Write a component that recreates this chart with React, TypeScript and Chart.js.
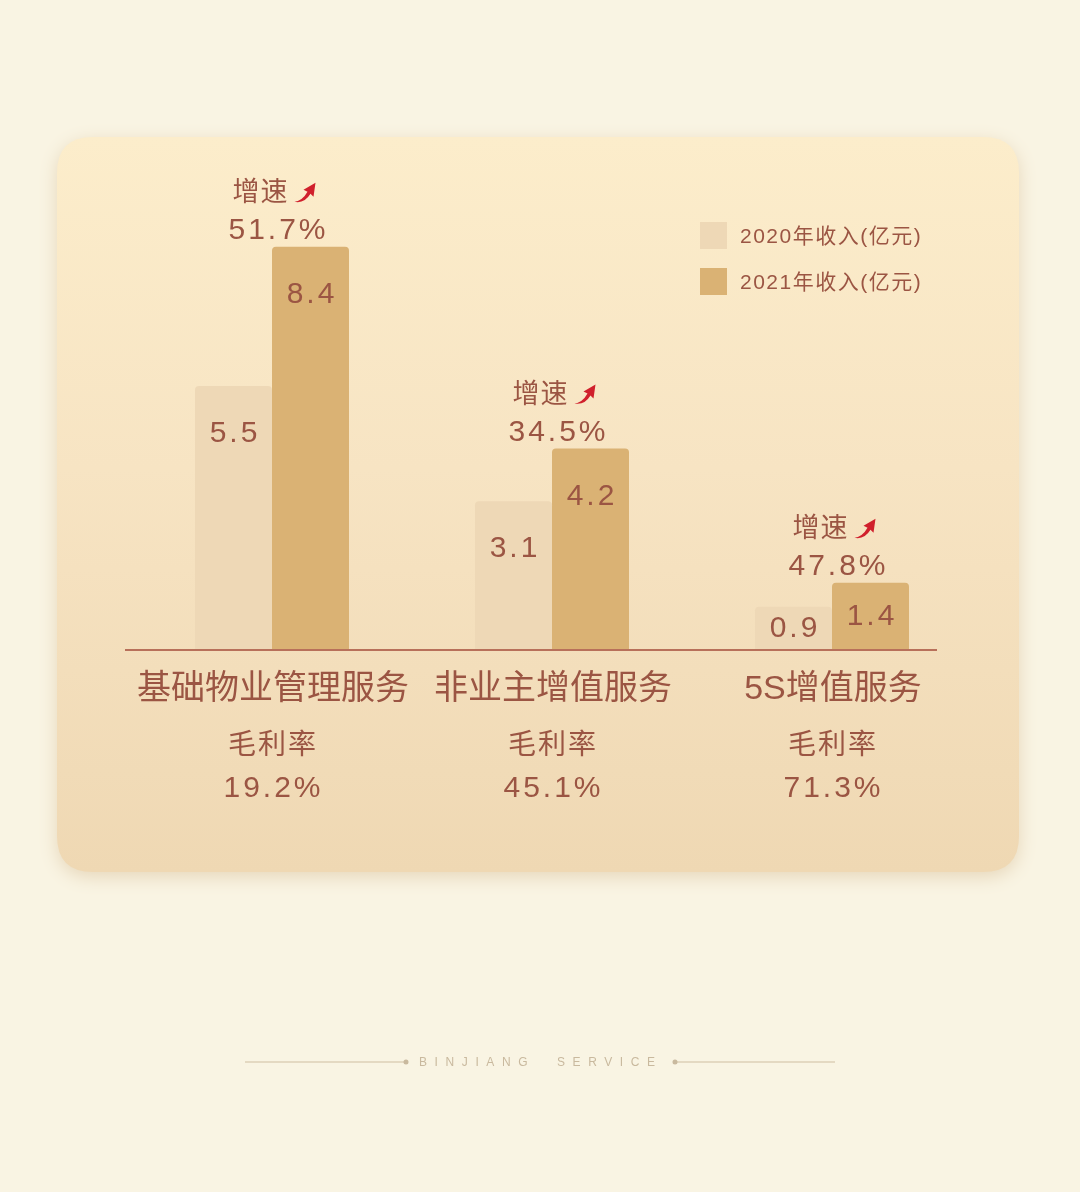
import { useRef, useEffect } from "react";
import { Chart, registerables } from "chart.js";
import type { Plugin } from "chart.js";

Chart.register(...registerables);

const categories = ["基础物业管理服务", "非业主增值服务", "5S增值服务"];
const seriesLabels = ["2020年收入(亿元)", "2021年收入(亿元)"];
const revenue2020 = [5.5, 3.1, 0.9];
const revenue2021 = [8.4, 4.2, 1.4];
const growthRates = [51.7, 34.5, 47.8];
const grossMargins = [19.2, 45.1, 71.3];

const TEXT = "#9b5543";
const RED = "#d0202c";
const COLOR_2020 = "#eed8b6";
const COLOR_2021 = "#dab274";
const FONT = '"Liberation Sans", "Noto Sans CJK SC", sans-serif';

function roundRect(ctx: CanvasRenderingContext2D, x: number, y: number, w: number, h: number, r: number) {
    ctx.beginPath();
    ctx.moveTo(x + r, y);
    ctx.lineTo(x + w - r, y);
    ctx.quadraticCurveTo(x + w, y, x + w, y + r);
    ctx.lineTo(x + w, y + h - r);
    ctx.quadraticCurveTo(x + w, y + h, x + w - r, y + h);
    ctx.lineTo(x + r, y + h);
    ctx.quadraticCurveTo(x, y + h, x, y + h - r);
    ctx.lineTo(x, y + r);
    ctx.quadraticCurveTo(x, y, x + r, y);
    ctx.closePath();
}

function drawArrow(ctx: CanvasRenderingContext2D, x: number, y: number) {
    // small red swoosh arrow pointing up-right, (x, y) = lower-left of the glyph
    ctx.save();
    ctx.fillStyle = RED;
    ctx.beginPath();
    ctx.moveTo(x, y);
    ctx.quadraticCurveTo(x + 8, y - 1, x + 13, y - 10);
    ctx.lineTo(x + 9, y - 12);
    ctx.lineTo(x + 21, y - 19);
    ctx.lineTo(x + 19, y - 5);
    ctx.lineTo(x + 16, y - 8);
    ctx.quadraticCurveTo(x + 10, y + 2, x, y);
    ctx.closePath();
    ctx.fill();
    ctx.restore();
}

const decor: Plugin<"bar"> = {
    id: "decor",
    beforeDraw(chart) {
        const ctx = chart.ctx;
        const W = chart.width;
        ctx.save();
        ctx.fillStyle = "#f9f4e3";
        ctx.fillRect(0, 0, W, chart.height);

        // card
        ctx.save();
        ctx.shadowColor = "rgba(196, 160, 110, 0.35)";
        ctx.shadowBlur = 18;
        ctx.shadowOffsetY = 5;
        const g = ctx.createLinearGradient(0, 137, 0, 872);
        g.addColorStop(0, "#fcedcb");
        g.addColorStop(0.45, "#f7e4c3");
        g.addColorStop(1, "#efd8b3");
        ctx.fillStyle = g;
        roundRect(ctx, 57, 137, 962, 735, 36);
        ctx.fill();
        ctx.restore();

        // footer
        const fy = 1062;
        ctx.strokeStyle = "#ddd0b8";
        ctx.lineWidth = 1.5;
        ctx.beginPath();
        ctx.moveTo(245, fy);
        ctx.lineTo(405, fy);
        ctx.moveTo(676, fy);
        ctx.lineTo(835, fy);
        ctx.stroke();
        ctx.fillStyle = "#c9b99e";
        ctx.beginPath();
        ctx.arc(406, fy, 2.5, 0, Math.PI * 2);
        ctx.arc(675, fy, 2.5, 0, Math.PI * 2);
        ctx.fill();
        ctx.font = `12px "Liberation Sans", sans-serif`;
        (ctx as any).letterSpacing = "7.6px";
        ctx.textAlign = "left";
        ctx.textBaseline = "middle";
        ctx.fillText("BINJIANG  SERVICE", 419, fy + 1);
        ctx.restore();
    },
    afterDatasetsDraw(chart) {
        const ctx = chart.ctx;
        const xScale = chart.scales.x;
        const area = chart.chartArea;
        ctx.save();

        // baseline
        ctx.strokeStyle = "#b8705a";
        ctx.lineWidth = 2;
        ctx.beginPath();
        ctx.moveTo(125, area.bottom);
        ctx.lineTo(937, area.bottom);
        ctx.stroke();

        ctx.fillStyle = TEXT;
        ctx.textAlign = "center";
        ctx.textBaseline = "middle";

        // values inside bars
        chart.data.datasets.forEach((ds, di) => {
            const meta = chart.getDatasetMeta(di);
            meta.data.forEach((el: any, i) => {
                const h = el.base - el.y;
                const off = h > 100 ? 48 : h * 0.5;
                ctx.font = `30px ${FONT}`;
                (ctx as any).letterSpacing = "3px";
                ctx.fillText(Number(ds.data[i]).toFixed(1), el.x + 1.5, el.y + off);
            });
        });

        // growth labels above 2021 bars
        const meta21 = chart.getDatasetMeta(1);
        categories.forEach((_, i) => {
            const cx = xScale.getPixelForValue(i) + 5;
            const top = (meta21.data[i] as any).y;
            ctx.font = `27px ${FONT}`;
            (ctx as any).letterSpacing = "1px";
            ctx.textAlign = "left";
            const tw = ctx.measureText("增速").width;
            const total = tw + 6 + 21;
            const sx = cx - total / 2 - 3;
            ctx.fillText("增速", sx, top - 53);
            drawArrow(ctx, sx + tw + 6, top - 45);
            ctx.textAlign = "center";
            ctx.font = `30px ${FONT}`;
            (ctx as any).letterSpacing = "3px";
            ctx.fillText(growthRates[i].toFixed(1) + "%", cx + 1.5, top - 16);
        });

        // categories and gross margins
        categories.forEach((c, i) => {
            const cx = xScale.getPixelForValue(i);
            ctx.font = `34px ${FONT}`;
            (ctx as any).letterSpacing = "0px";
            ctx.fillText(c, cx + 1, 690);
            ctx.font = `28px ${FONT}`;
            (ctx as any).letterSpacing = "2px";
            ctx.fillText("毛利率", cx + 1, 746);
            ctx.font = `30px ${FONT}`;
            (ctx as any).letterSpacing = "3px";
            ctx.fillText(grossMargins[i].toFixed(1) + "%", cx + 1.5, 789);
        });

        // legend
        ctx.textAlign = "left";
        ctx.font = `21px ${FONT}`;
        (ctx as any).letterSpacing = "1.5px";
        chart.data.datasets.forEach((ds, di) => {
            const y = 222 + di * 46;
            ctx.fillStyle = ds.backgroundColor as string;
            ctx.fillRect(700, y, 27, 27);
            ctx.fillStyle = TEXT;
            ctx.fillText(ds.label as string, 740, y + 15);
        });

        ctx.restore();
    },
};

export default function App() {
    const canvasRef = useRef<HTMLCanvasElement>(null);
    const chartRef = useRef<Chart<"bar", number[], string> | null>(null);

    useEffect(() => {
        if (canvasRef && canvasRef.current) {
            chartRef.current = new Chart(canvasRef.current, {
                type: "bar",
                data: {
                    labels: categories,
                    datasets: [
                        {
                            label: seriesLabels[0],
                            data: revenue2020,
                            backgroundColor: COLOR_2020,
                            borderRadius: { topLeft: 4, topRight: 4, bottomLeft: 0, bottomRight: 0 },
                            borderSkipped: "bottom",
                        },
                        {
                            label: seriesLabels[1],
                            data: revenue2021,
                            backgroundColor: COLOR_2021,
                            borderRadius: { topLeft: 4, topRight: 4, bottomLeft: 0, bottomRight: 0 },
                            borderSkipped: "bottom",
                        },
                    ],
                },
                options: {
                    animation: false,
                    responsive: false,
                    devicePixelRatio: 1,
                    layout: { padding: { left: 132, right: 108, top: 170, bottom: 542 } },
                    datasets: { bar: { categoryPercentage: 0.55, barPercentage: 1 } },
                    scales: {
                        x: { display: false, offset: true },
                        y: { display: false, min: 0, max: 10 },
                    },
                    plugins: {
                        legend: { display: false },
                        tooltip: { enabled: false },
                    },
                },
                plugins: [decor],
            });
        }

        return () => {
            if (chartRef.current) {
                chartRef.current.destroy();
                chartRef.current = null;
            }
        };
    }, []);

    return (
        <div style={{ position: "absolute", left: 0, top: 0, width: 1080, height: 1192 }}>
            <canvas ref={canvasRef} width={1080} height={1192} />
        </div>
    );
}
